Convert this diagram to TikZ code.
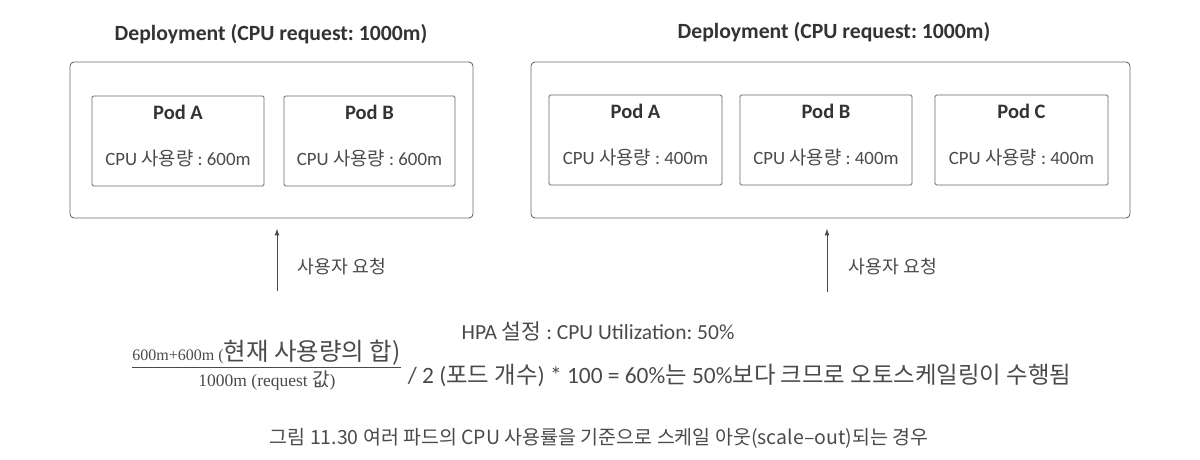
\documentclass[tikz,border=0pt]{standalone}
\usepackage[no-math]{fontspec}
\setmainfont{Carlito}
\newfontfamily\kr{Noto Sans CJK KR}
\newfontfamily\serif{Liberation Serif}
\usetikzlibrary{arrows.meta,positioning}
\definecolor{txtgray}{HTML}{333333}
\definecolor{bodygray}{HTML}{4A4A4A}
\definecolor{linegray}{HTML}{6A6A6A}
\newcommand\ko[1]{{\kr #1}}
\frenchspacing

\begin{document}
\begin{tikzpicture}[x=1pt,y=-1pt,line width=.9pt,
  depl/.style={draw=linegray,rounded corners=4pt,minimum height=156pt,inner sep=0pt},
  pod/.style={draw=linegray,rounded corners=1.5pt,minimum height=90pt,inner sep=0pt},
  title/.style={font=\fontsize{21.7}{24}\selectfont\bfseries,text=txtgray},
  podname/.style={font=\fontsize{20.5}{24}\selectfont\bfseries,text=txtgray},
  usage/.style={font=\fontsize{18.8}{22}\selectfont,text=bodygray},
  note/.style={font=\fontsize{18.3}{22}\selectfont,text=bodygray},
  req/.style={-{Latex[length=7pt,width=5pt]},draw=bodygray,line width=1pt}]
\useasboundingbox (0,0) rectangle (1200,459);
% before: two pods
\node[title] (tl) at (271,34) {Deployment (CPU request: 1000m)};
\node[depl,minimum width=403pt] (dl) at (271.5,140) {};
\node[pod,minimum width=172pt] (la) at (178,141) {};
\node[pod,minimum width=171pt] (lb) at (369.5,141) {};
\node[podname] at ([yshift=-17pt]la.north) {Pod A};
\node[podname] at ([yshift=-17pt]lb.north) {Pod B};
\node[usage] at ([yshift=28pt]la.south) {CPU \ko{사용량} : 600m};
\node[usage] at ([yshift=28pt]lb.south) {CPU \ko{사용량} : 600m};
% after: three pods
\node[title] (tr) at (834,32) {Deployment (CPU request: 1000m)};
\node[depl,minimum width=599pt] (dr) at (830.5,140) {};
\node[pod,minimum width=173pt] (ra) at (635.5,140) {};
\node[pod,minimum width=172pt] (rb) at (826,140) {};
\node[pod,minimum width=173pt] (rc) at (1021.5,140) {};
\node[podname] at ([yshift=-17pt]ra.north) {Pod A};
\node[podname] at ([yshift=-17pt]rb.north) {Pod B};
\node[podname] at ([yshift=-17pt]rc.north) {Pod C};
\node[usage] at ([yshift=28pt]ra.south) {CPU \ko{사용량} : 400m};
\node[usage] at ([yshift=28pt]rb.south) {CPU \ko{사용량} : 400m};
\node[usage] at ([yshift=28pt]rc.south) {CPU \ko{사용량} : 400m};
% user requests
\coordinate (ul) at (277,291);
\coordinate (ur) at (827,292);
\draw[req] (ul) -- ([yshift=-10pt]ul |- dl.south);
\draw[req] (ur) -- ([yshift=-10pt]ur |- dr.south);
\node[note] (nl) at (342,267) {\ko{사용자 요청}};
\node[note] (nr) at (893,267) {\ko{사용자 요청}};
% HPA rule
\node[note,font=\fontsize{21.5}{24}\selectfont] (hpa) at (598,331) {HPA \ko{설정} : CPU Utilization: 50\%};
\node[text=bodygray,anchor=base west,inner sep=0pt] (fnum) at (132,360)
  {{\fontsize{16}{18}\selectfont\serif 600m+600m (}{\fontsize{24.5}{26}\selectfont\kr 현재 사용량의 합)}};
\node[text=bodygray,anchor=base,inner sep=0pt] (fden) at (267,386)
  {\fontsize{17.5}{18}\selectfont\serif 1000m (request {\fontsize{19}{18}\selectfont\kr 값})};
\draw[bodygray,line width=1pt] (fnum.west |- 0,367) -- (fnum.east |- 0,367);
\node[font=\fontsize{23.4}{26}\selectfont,text=bodygray,anchor=west] (calc) at (404,375)
  {/ 2 (\ko{포드 개수}) * 100 = 60\%\ko{는} 50\%\ko{보다 크므로 오토스케일링이 수행됨}};
% caption
\node[font=\fontsize{19.5}{22}\selectfont\kr,text=bodygray] (cap) at (599,438)
  {그림 11.30 여러 파드의 CPU 사용률을 기준으로 스케일 아웃(scale–out)되는 경우};
\end{tikzpicture}
\end{document}
